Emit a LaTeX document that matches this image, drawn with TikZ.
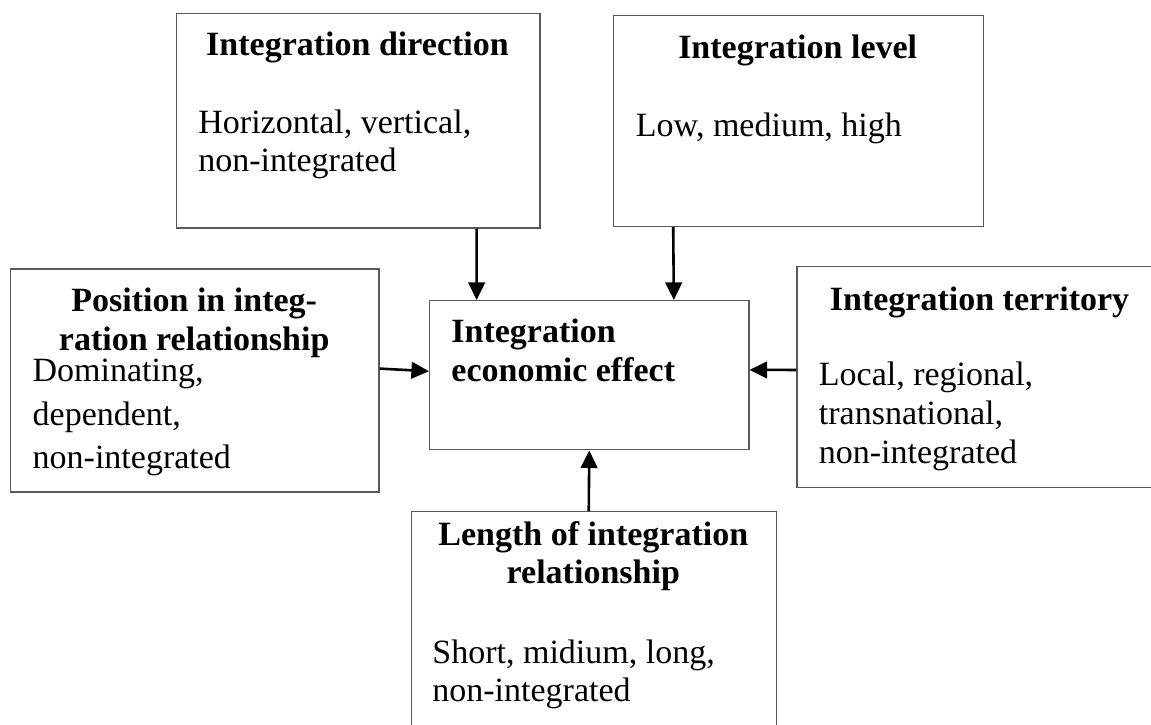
\documentclass[tikz,border=0pt]{standalone}
\usepackage{fontspec}
\setmainfont{Liberation Serif}
\usetikzlibrary{arrows.meta}

\begin{document}
\begin{tikzpicture}[x=0.5pt, y=-0.5pt,
        box/.style={draw=black!65, line width=0.6pt, inner sep=0pt, anchor=north west},
        head/.style={font=\fontsize{17}{19.2}\selectfont\bfseries, inner sep=0pt, align=center, anchor=base},
        headl/.style={head, align=left, anchor=base west},
        body/.style={font=\fontsize{17}{19.2}\selectfont, inner sep=0pt, align=left, anchor=base west},
        arrow/.style={-{Triangle[length=8.8pt, width=8.3pt]}, line width=1.3pt}
    ]
        \useasboundingbox (0,0) rectangle (1151,724);

        % boxes and their texts (multi-line texts sit on their last baseline)
        \node[box, minimum width=181.85pt, minimum height=107.3pt] (dir) at (175.6,12.7) {};
        \node[head] (dirhead) at (357.5,55) {Integration direction};
        \node[body] (dirtext) at (198,171.7) {Horizontal, vertical,\\non-integrated};

        \node[box, minimum width=185pt, minimum height=105.5pt] (lvl) at (612.7,15) {};
        \node[head] (lvlhead) at (797.7,58.3) {Integration level};
        \node[body] (lvltext) at (635.5,136.7) {Low, medium, high};

        \node[box, minimum width=184.2pt, minimum height=111.5pt] (pos) at (10,268.3) {};
        \node[head] (poshead) at (194.2,350) {Position in integ-\\ration relationship};
        \node[body, font=\fontsize{17}{21.7}\selectfont] (postext) at (32.3,468.7) {Dominating,\\dependent,\\non-integrated};

        \node[box, minimum width=159.65pt, minimum height=74.6pt] (ctr) at (429,300) {};
        \node[headl] (ctrhead) at (451,381) {Integration\\economic effect};

        \node[box, minimum width=177.3pt, minimum height=110.35pt] (ter) at (796.4,266) {};
        \node[headl] (terhead) at (829.5,310) {Integration territory};
        \node[body, font=\fontsize{17}{19.6}\selectfont] (tertext) at (818.5,463.7) {Local, regional,\\transnational,\\non-integrated};

        \node[box, minimum width=182.65pt, minimum height=107pt] (len) at (410.7,511) {};
        \node[head] (lenhead) at (593.3,583.7) {Length of integration\\relationship};
        \node[body] (lentext) at (432,701.7) {Short, midium, long,\\non-integrated};

        % influences on the effect
        \draw[arrow] ([xshift=59.3pt]dir.south) -- ([xshift=-56.3pt]ctr.north);
        \draw[arrow] ([xshift=-62.55pt]lvl.south) -- ([xshift=42.3pt]ctr.north);
        \draw[arrow] ([yshift=5.9pt]pos.east) -- ([yshift=2pt]ctr.west);
        \draw[arrow] ([yshift=3.5pt]ter.west) -- ([yshift=2.65pt]ctr.east);
        \draw[arrow] ([xshift=-2.6pt]len.north) -- (ctr.south);
    \end{tikzpicture}
\end{document}
